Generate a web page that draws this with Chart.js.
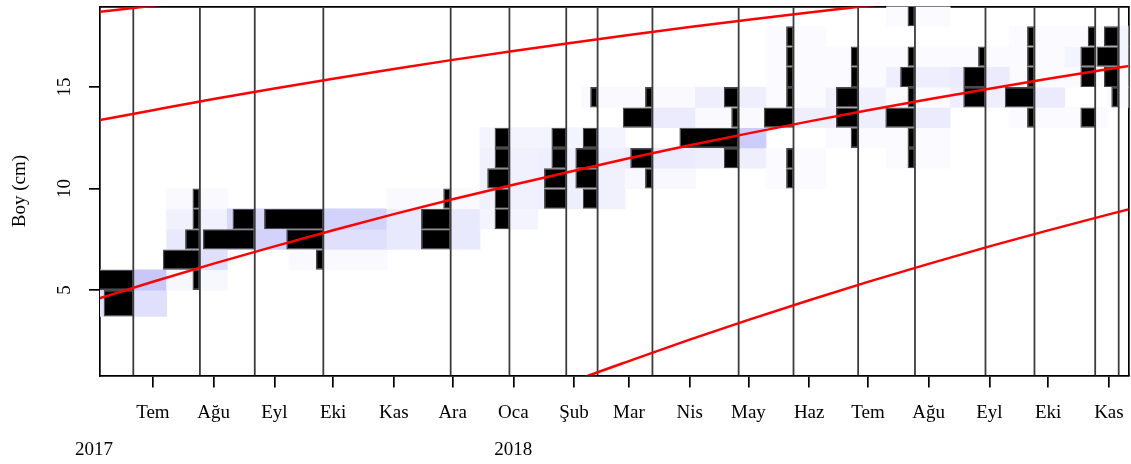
<!DOCTYPE html>
<html>
<head>
<meta charset="utf-8">
<title>Boy frekansları ve büyüme eğrileri</title>
<script src="https://cdn.jsdelivr.net/npm/chart.js@4.4.1/dist/chart.umd.min.js"></script>
<style>
  html, body { margin: 0; padding: 0; background: #ffffff; }
  canvas { display: block; }
</style>
</head>
<body>
<canvas id="lfq" width="1131" height="464"></canvas>
<script>
// Length classes (cm): edges of each class, lowest class is wider than the rest
const classEdges = [3.7, 5, 6, 7, 8, 9, 10, 11, 12, 13, 14, 15, 16, 17, 18, 19];

// Sampling dates
const sampleDates = [
  '2017-06-21', '2017-07-25', '2017-08-22', '2017-09-26', '2017-11-30', '2017-12-30',
  '2018-01-28', '2018-02-13', '2018-03-13', '2018-04-26', '2018-05-24', '2018-06-26',
  '2018-07-25', '2018-08-30', '2018-09-24', '2018-10-25', '2018-11-06'
];

// Catch per length class, one row per sample (same order as the classes above)
const catchCounts = [
  [4, 6, 0, 0, 0, 0, 0, 0, 0, 0, 0, 0, 0, 0, 0],
  [0, 1, 5, 2, 1, 1, 0, 0, 0, 0, 0, 0, 0, 0, 0],
  [0, 0, 0, 7, 3, 0, 0, 0, 0, 0, 0, 0, 0, 0, 0],
  [0, 0, 1, 5, 8, 0, 0, 0, 0, 0, 0, 0, 0, 0, 0],
  [0, 0, 0, 4, 4, 1, 0, 0, 0, 0, 0, 0, 0, 0, 0],
  [0, 0, 0, 0, 2, 2, 3, 2, 2, 0, 0, 0, 0, 0, 0],
  [0, 0, 0, 0, 0, 3, 3, 2, 2, 0, 0, 0, 0, 0, 0],
  [0, 0, 0, 0, 0, 2, 3, 3, 2, 0, 1, 0, 0, 0, 0],
  [0, 0, 0, 0, 0, 0, 1, 3, 0, 4, 1, 0, 0, 0, 0],
  [0, 0, 0, 0, 0, 0, 0, 2, 8, 1, 2, 0, 0, 0, 0],
  [0, 0, 0, 0, 0, 0, 1, 1, 0, 4, 1, 1, 1, 1, 0],
  [0, 0, 0, 0, 0, 0, 0, 0, 1, 3, 3, 1, 1, 0, 0],
  [0, 0, 0, 0, 0, 0, 0, 1, 1, 4, 1, 2, 1, 0, 1],
  [0, 0, 0, 0, 0, 0, 0, 0, 0, 0, 3, 3, 1, 0, 0],
  [0, 0, 0, 0, 0, 0, 0, 0, 0, 1, 4, 1, 1, 1, 0],
  [0, 0, 0, 0, 0, 0, 0, 0, 0, 2, 0, 2, 2, 1, 0],
  [0, 0, 0, 0, 0, 0, 0, 0, 0, 0, 1, 2, 3, 2, 0]
];

// Positive restructured scores per sample and class (0 = not shaded)
const restructuredScores = [
  [0.55, 1.0, 0, 0, 0, 0, 0, 0, 0, 0, 0, 0, 0, 0, 0],
  [0, 0.15, 0.55, 0.4, 0.25, 0.1, 0, 0, 0, 0, 0, 0, 0, 0, 0],
  [0, 0, 0, 0.8, 0.7, 0, 0, 0, 0, 0, 0, 0, 0, 0, 0],
  [0, 0, 0.1, 0.55, 0.8, 0, 0, 0, 0, 0, 0, 0, 0, 0, 0],
  [0, 0, 0, 0.4, 0.4, 0.1, 0, 0, 0, 0, 0, 0, 0, 0, 0],
  [0, 0, 0, 0, 0.2, 0.25, 0.25, 0.25, 0.2, 0, 0, 0, 0, 0, 0],
  [0, 0, 0, 0, 0, 0.3, 0.3, 0.3, 0.2, 0, 0, 0, 0, 0, 0],
  [0, 0, 0, 0, 0, 0.25, 0.25, 0.3, 0.2, 0, 0.1, 0, 0, 0, 0],
  [0, 0, 0, 0, 0, 0, 0.12, 0.35, 0, 0.35, 0.1, 0, 0, 0, 0],
  [0, 0, 0, 0, 0, 0, 0, 0.3, 0.9, 0.1, 0.3, 0, 0, 0, 0],
  [0, 0, 0, 0, 0, 0, 0.08, 0.08, 0, 0.3, 0.08, 0.08, 0.08, 0.08, 0],
  [0, 0, 0, 0, 0, 0, 0, 0, 0.08, 0.3, 0.25, 0.08, 0.08, 0, 0],
  [0, 0, 0, 0, 0, 0, 0, 0.08, 0.08, 0.35, 0.08, 0.3, 0.08, 0, 0.08],
  [0, 0, 0, 0, 0, 0, 0, 0, 0, 0, 0.3, 0.35, 0.08, 0, 0],
  [0, 0, 0, 0, 0, 0, 0, 0, 0, 0.08, 0.35, 0.08, 0.08, 0.08, 0],
  [0, 0, 0, 0, 0, 0, 0, 0, 0, 0.08, 0, 0.08, 0.2, 0.08, 0],
  [0, 0, 0, 0, 0, 0, 0, 0, 0, 0, 0.08, 0.08, 0.2, 0.2, 0]
];

// Axis ticks and labels
const monthTickDates = [
  '2017-07-01', '2017-08-01', '2017-09-01', '2017-10-01', '2017-11-01', '2017-12-01',
  '2018-01-01', '2018-02-01', '2018-03-01', '2018-04-01', '2018-05-01', '2018-06-01',
  '2018-07-01', '2018-08-01', '2018-09-01', '2018-10-01', '2018-11-01'
];
const monthTickLabels = [
  'Tem', 'Ağu', 'Eyl', 'Eki', 'Kas', 'Ara', 'Oca', 'Şub', 'Mar',
  'Nis', 'May', 'Haz', 'Tem', 'Ağu', 'Eyl', 'Eki', 'Kas'
];
const yearTickDates = ['2017-06-01', '2018-01-01'];
const yearTickLabels = ['2017', '2018'];
const lengthTicks = [5, 10, 15];
const lengthRange = [0.79, 18.97];
const dateRange = ['2017-06-04', '2018-11-11'];

// Growth curves of successive cohorts, lengths (cm) on the first of each month
const curveDates = [
  '2017-06-01', '2017-07-01', '2017-08-01', '2017-09-01', '2017-10-01', '2017-11-01',
  '2017-12-01', '2018-01-01', '2018-02-01', '2018-03-01', '2018-04-01', '2018-05-01',
  '2018-06-01', '2018-07-01', '2018-08-01', '2018-09-01', '2018-10-01', '2018-11-01',
  '2018-12-01'
];
const cohort2015 = [18.68, 19.01, 19.34, null, null, null, null, null, null, null,
  null, null, null, null, null, null, null, null, null];
const cohort2016 = [13.32, 13.86, 14.41, 14.93, 15.41, 15.89, 16.34, 16.78, 17.20, 17.57,
  17.96, 18.32, 18.68, 19.01, 19.34, null, null, null, null];
const cohort2017 = [4.51, 5.41, 6.30, 7.15, 7.95, 8.74, 9.47, 10.19, 10.88, 11.49,
  12.13, 12.72, 13.31, 13.86, 14.40, 14.92, 15.41, 15.89, 16.33];
const cohort2018 = [null, null, null, null, null, null, null, -0.63, 0.52, 1.50,
  2.56, 3.53, 4.50, 5.40, 6.29, 7.15, 7.94, 8.73, 9.46];

// Histogram bars: days of width per fish caught
const daysPerFish = 3.78;

const dayOf = s => Date.parse(s + 'T00:00:00Z') / 864e5;
const sampleDays = sampleDates.map(dayOf);
const classMids = classEdges.slice(0, -1).map((lo, i) => (lo + classEdges[i + 1]) / 2);
const classWidths = classEdges.slice(0, -1).map((lo, i) => classEdges[i + 1] - lo);
const regularWidth = classWidths.slice().sort((a, b) => a - b)[Math.floor(classWidths.length / 2)];
const classAxis = classWidths.map(w => Math.abs(w - regularWidth) < 1e-9 ? 'y' : 'yOdd');
const oddClassEdges = classWidths.flatMap((w, i) => classAxis[i] === 'yOdd' ? [classEdges[i], classEdges[i + 1]] : []);

// Each sample's score cells reach halfway to the neighbouring samples
const cellSpans = sampleDays.map((d, i) => {
  const prev = i > 0 ? (sampleDays[i - 1] + d) / 2 : null;
  const next = i < sampleDays.length - 1 ? (d + sampleDays[i + 1]) / 2 : null;
  return [prev !== null ? prev : d - (next - d), next !== null ? next : d + (d - prev)];
});

const scoreColor = s => {
  const v = Math.round(255 - 56 * s);
  return 'rgb(' + v + ',' + v + ',' + Math.round(255 - 6 * s) + ')';
};

function classDatasets(axisId) {
  const cells = [], cellColors = [], bars = [];
  sampleDays.forEach((d, si) => {
    classMids.forEach((mid, ci) => {
      if (classAxis[ci] !== axisId) return;
      const sc = restructuredScores[si][ci];
      if (sc > 0) {
        cells.push({ x: cellSpans[si], y: mid });
        cellColors.push(scoreColor(sc));
      }
      const n = catchCounts[si][ci];
      if (n > 0) bars.push({ x: [d - n * daysPerFish, d], y: mid });
    });
  });
  const common = {
    type: 'bar', indexAxis: 'y', xAxisID: 'x', yAxisID: axisId,
    grouped: false, barPercentage: 1, categoryPercentage: 1
  };
  return [
    Object.assign({}, common, {
      data: cells, backgroundColor: cellColors, borderWidth: 0, order: 3
    }),
    Object.assign({}, common, {
      data: bars, backgroundColor: '#000000', borderColor: '#4a4a4a',
      borderWidth: 1.2, borderSkipped: false, inflateAmount: 0, order: 2
    })
  ];
}

const sampleLinePoints = sampleDays.flatMap(d => [
  { x: d, y: lengthRange[0] }, { x: d, y: lengthRange[1] }, { x: d, y: null }
]);

const curveDatasets = [cohort2015, cohort2016, cohort2017, cohort2018].map(vals => ({
  type: 'line', xAxisID: 'x', yAxisID: 'y',
  data: curveDates.map((d, i) => ({ x: dayOf(d), y: vals[i] })),
  borderColor: '#ff0000', borderWidth: 2.5, pointRadius: 0,
  cubicInterpolationMode: 'monotone', spanGaps: false, order: 0
}));

const datasets = [
  ...classDatasets('y'),
  ...classDatasets('yOdd'),
  {
    type: 'line', xAxisID: 'x', yAxisID: 'y', data: sampleLinePoints,
    borderColor: '#3c3c3c', borderWidth: 1.8, pointRadius: 0, spanGaps: false, order: 1
  },
  ...curveDatasets
];

const serif = "'Liberation Serif', 'Times New Roman', 'DejaVu Serif', serif";
Chart.defaults.font.family = serif;
Chart.defaults.font.size = 19;
Chart.defaults.color = '#000000';

const xMin = dayOf(dateRange[0]);
const xMax = dayOf(dateRange[1]);

// Axes keep the plot frame fixed; label overhang must not shrink it
const fixBox = size => ax => {
  if (ax.isHorizontal()) ax.height = size; else ax.width = size;
  ax.paddingTop = 0; ax.paddingBottom = 0; ax.paddingLeft = 0; ax.paddingRight = 0;
};

new Chart(document.getElementById('lfq'), {
  type: 'line',
  data: { datasets },
  options: {
    responsive: false,
    devicePixelRatio: 1,
    animation: false,
    events: [],
    layout: { padding: { top: 6.5, right: 2.5, left: 0, bottom: 0 } },
    plugins: { legend: { display: false }, tooltip: { enabled: false } },
    scales: {
      x: {
        type: 'linear', position: 'bottom', min: xMin, max: xMax, offset: false,
        afterBuildTicks: ax => { ax.ticks = monthTickDates.map(d => ({ value: dayOf(d) })); },
        ticks: {
          autoSkip: false, maxRotation: 0, minRotation: 0, padding: 14.5,
          callback: (v, i) => monthTickLabels[i]
        },
        grid: { offset: false, drawOnChartArea: false, drawTicks: true, tickLength: 12, color: '#000000', lineWidth: 1.7 },
        border: { display: true, color: '#000000', width: 1.7 },
        afterFit: fixBox(50)
      },
      xYear: {
        type: 'linear', axis: 'x', position: 'bottom', min: xMin, max: xMax, offset: false,
        afterBuildTicks: ax => { ax.ticks = yearTickDates.map(d => ({ value: dayOf(d) })); },
        ticks: {
          autoSkip: false, maxRotation: 0, minRotation: 0, padding: 13.4,
          callback: (v, i) => yearTickLabels[i]
        },
        grid: { display: false, drawTicks: false, offset: false },
        border: { display: false },
        afterFit: fixBox(38.5)
      },
      xTop: {
        type: 'linear', axis: 'x', position: 'top', min: xMin, max: xMax, offset: false,
        ticks: { display: false },
        grid: { display: false, drawTicks: false, offset: false },
        border: { display: true, color: '#000000', width: 1.7 },
        afterFit: fixBox(0)
      },
      y: {
        type: 'linear', axis: 'y', position: 'left', min: lengthRange[0], max: lengthRange[1], offset: false,
        afterBuildTicks: ax => { ax.ticks = lengthTicks.map(v => ({ value: v })); },
        ticks: { minRotation: 90, maxRotation: 90, crossAlign: 'center', padding: 14.5 },
        grid: { offset: false, drawOnChartArea: false, drawTicks: true, tickLength: 11, color: '#000000', lineWidth: 1.7 },
        border: { display: true, color: '#000000', width: 1.7 },
        title: { display: true, text: 'Boy (cm)', padding: { top: 8.6, bottom: 0 } },
        afterFit: fixBox(100)
      },
      yOdd: {
        type: 'linear', axis: 'y', position: 'left', display: false, offset: false,
        min: lengthRange[0], max: lengthRange[1],
        grid: { offset: false },
        afterBuildTicks: ax => { ax.ticks = oddClassEdges.map(v => ({ value: v })); },
        afterFit: fixBox(0)
      },
      yRight: {
        type: 'linear', axis: 'y', position: 'right', min: lengthRange[0], max: lengthRange[1], offset: false,
        ticks: { display: false },
        grid: { display: false, drawTicks: false, offset: false },
        border: { display: true, color: '#000000', width: 1.7 },
        afterFit: fixBox(0)
      }
    }
  }
});
</script>
</body>
</html>
